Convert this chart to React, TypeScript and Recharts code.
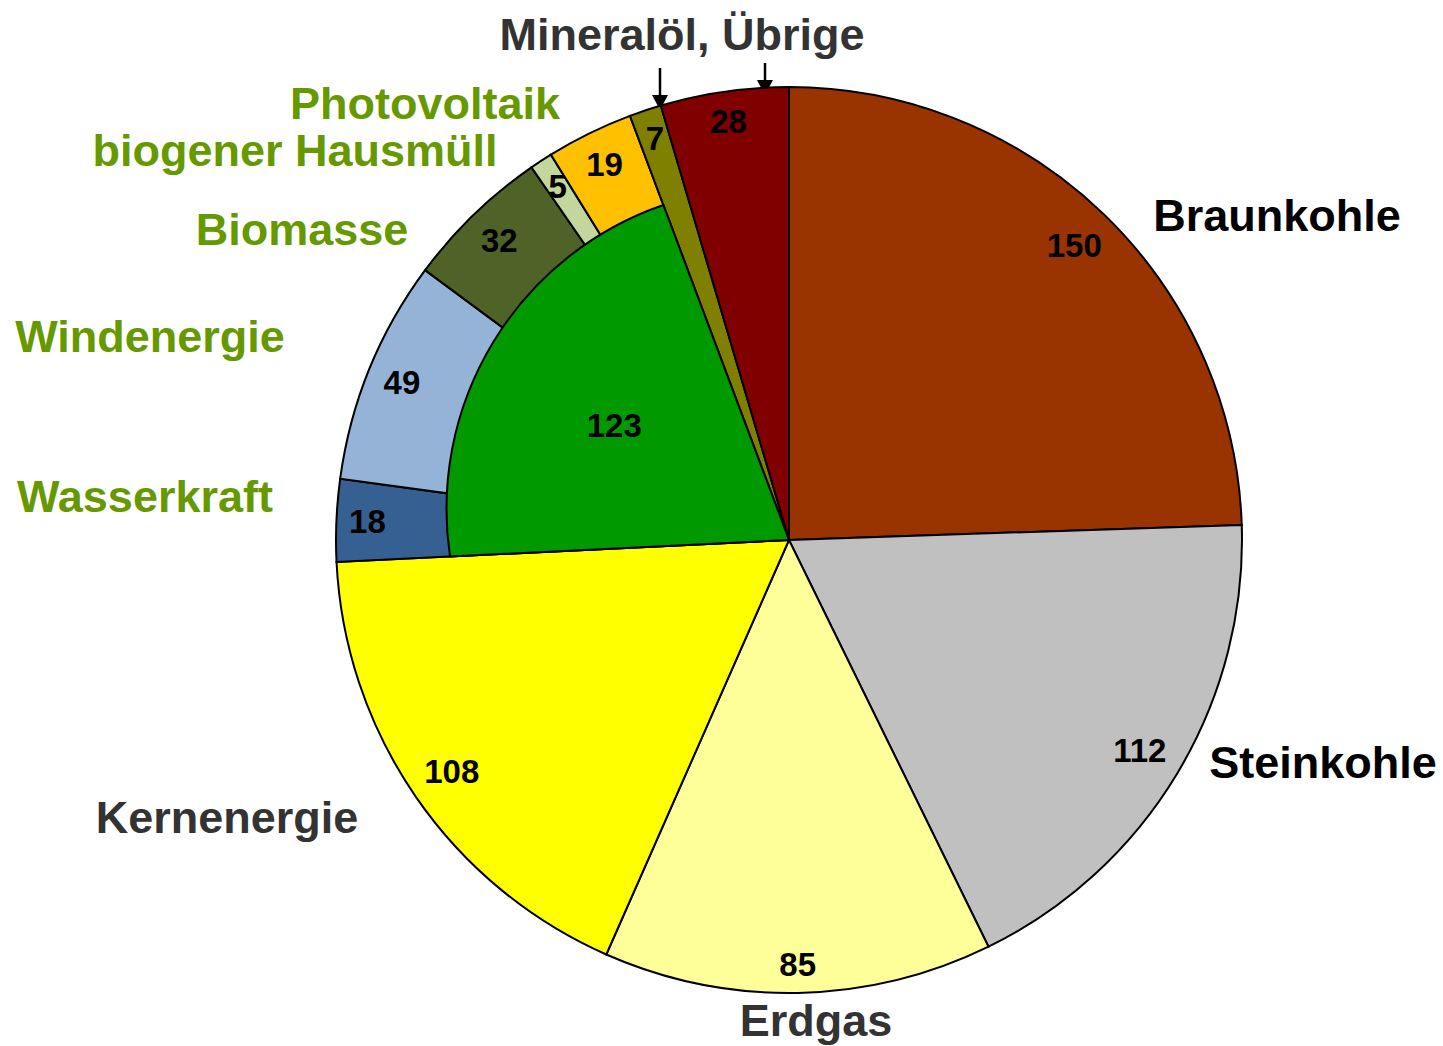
import React from 'react';
import { PieChart, Pie, Cell, Customized } from 'recharts';

document.body.style.margin = '0';

// Bruttostromerzeugung nach Energieträgern (TWh)
const categories = [
  'Braunkohle',
  'Steinkohle',
  'Erdgas',
  'Kernenergie',
  'Wasserkraft',
  'Windenergie',
  'Biomasse',
  'biogener Hausmüll',
  'Photovoltaik',
  'Mineralöl',
  'Übrige',
];
const values = [150, 112, 85, 108, 18, 49, 32, 5, 19, 7, 28];
const renewable = [false, false, false, false, true, true, true, true, true, false, false];
const renewableTotalLabel = 'Erneuerbare';

const COLORS = [
  '#993300', // Braunkohle
  '#C0C0C0', // Steinkohle
  '#FFFF99', // Erdgas
  '#FFFF00', // Kernenergie
  '#366092', // Wasserkraft
  '#95B3D7', // Windenergie
  '#4F6228', // Biomasse
  '#C3D69B', // biogener Hausmüll
  '#FFC000', // Photovoltaik
  '#808000', // Mineralöl
  '#800000', // Übrige
];
const RENEWABLE_COLOR = '#009900';
const GREEN_TEXT = '#669900';
const DARK_TEXT = '#333333';
const FONT = 'Arial, "Liberation Sans", sans-serif';
const VALUE_FONT = 33;
const NAME_FONT = 45;

const CX = 789;
const CY = 540;
const OUTER_R = 453;
const INNER_R = 340;
// the green slice's rim is a circle slightly off the pie centre (as in the original)
const RIM_OFFSET = { x: -21, y: -31 };
const RIM_R = 321.5;

const outerData = categories.map((name, i) => ({ name, value: values[i] }));

// inner layer: renewables merged into one slice, others left empty
const innerData: { name: string; value: number; show: boolean }[] = [];
categories.forEach((name, i) => {
  if (!renewable[i]) {
    innerData.push({ name, value: values[i], show: false });
  } else if (i === 0 || !renewable[i - 1]) {
    const total = values.filter((_, j) => renewable[j]).reduce((a, b) => a + b, 0);
    innerData.push({ name: renewableTotalLabel, value: total, show: true });
  }
});

// category captions, offsets from the pie centre (baseline, anchored middle)
const captions = [
  { text: 'Braunkohle', dx: 488, dy: -309, color: '#000000' },
  { text: 'Steinkohle', dx: 534, dy: 238, color: '#000000' },
  { text: 'Erdgas', dx: 27, dy: 496, color: DARK_TEXT },
  { text: 'Kernenergie', dx: -562, dy: 293, color: DARK_TEXT },
  { text: 'Wasserkraft', dx: -644, dy: -28, color: GREEN_TEXT },
  { text: 'Windenergie', dx: -639, dy: -188, color: GREEN_TEXT },
  { text: 'Biomasse', dx: -487, dy: -295, color: GREEN_TEXT },
  { text: 'biogener Hausmüll', dx: -494, dy: -374, color: GREEN_TEXT },
  { text: 'Photovoltaik', dx: -364, dy: -421, color: GREEN_TEXT },
  { text: 'Mineralöl, Übrige', dx: -107, dy: -490, color: DARK_TEXT },
];

// arrows from the "Mineralöl, Übrige" caption down to the pie
const arrows = [
  { dx: -129, y1: -472, y2: -430 },
  { dx: -24, y1: -477, y2: -445 },
];

const RAD = Math.PI / 180;

// value placed "inside end", like a spreadsheet label
const renderOuterValue = (props: any) => {
  const { cx, cy, midAngle, outerRadius, value } = props;
  const text = String(value);
  const hw = (text.length * 0.556 * VALUE_FONT) / 2;
  const hh = 16;
  const c = Math.cos(-midAngle * RAD);
  const s = Math.sin(-midAngle * RAD);
  const ext = Math.abs(c) * hw + Math.abs(s) * hh;
  const r = outerRadius - 12 - ext;
  return (
    <text
      x={cx + r * c}
      y={cy + r * s}
      dy="0.35em"
      textAnchor="middle"
      fontFamily={FONT}
      fontWeight="bold"
      fontSize={VALUE_FONT}
      fill="#000"
    >
      {text}
    </text>
  );
};

// point where a ray from the pie centre meets the offset rim circle
const rimPoint = (cx: number, cy: number, angle: number) => {
  const ux = Math.cos(-angle * RAD);
  const uy = Math.sin(-angle * RAD);
  const dx = -RIM_OFFSET.x;
  const dy = -RIM_OFFSET.y;
  const b = dx * ux + dy * uy;
  const t = -b + Math.sqrt(b * b - (dx * dx + dy * dy) + RIM_R * RIM_R);
  return { x: cx + t * ux, y: cy + t * uy };
};

// the renewable slice is drawn here, on top of the outer ring
const renderInner = (props: any) => {
  const { cx, cy, midAngle, outerRadius, startAngle, endAngle, value, index } = props;
  if (!innerData[index].show) return null;
  const p1 = rimPoint(cx, cy, startAngle);
  const p2 = rimPoint(cx, cy, endAngle);
  const large = Math.abs(startAngle - endAngle) > 180 ? 1 : 0;
  const path = `M${cx},${cy} L${p1.x},${p1.y} A${RIM_R},${RIM_R} 0 ${large} 1 ${p2.x},${p2.y} Z`;
  const r = outerRadius * 0.615;
  const c = Math.cos(-midAngle * RAD);
  const s = Math.sin(-midAngle * RAD);
  return (
    <g>
      <path d={path} fill={RENEWABLE_COLOR} stroke="#000" strokeWidth={2} strokeLinejoin="round" />
      <text
        x={cx + r * c}
        y={cy + r * s}
        dy="0.35em"
        textAnchor="middle"
        fontFamily={FONT}
        fontWeight="bold"
        fontSize={VALUE_FONT}
        fill="#000"
      >
        {value}
      </text>
    </g>
  );
};

const Annotations = () => (
  <g>
    {captions.map((c) => (
      <text
        key={c.text}
        x={CX + c.dx}
        y={CY + c.dy}
        textAnchor="middle"
        fontFamily={FONT}
        fontWeight="bold"
        fontSize={NAME_FONT}
        fill={c.color}
      >
        {c.text}
      </text>
    ))}
    {arrows.map((a, i) => {
      const x = CX + a.dx;
      const top = CY + a.y1;
      const tip = CY + a.y2;
      return (
        <g key={i}>
          <line x1={x} y1={top} x2={x} y2={tip - 12} stroke="#000" strokeWidth={2.5} />
          <polygon points={`${x - 8},${tip - 15} ${x + 8},${tip - 15} ${x},${tip}`} fill="#000" />
        </g>
      );
    })}
  </g>
);

export default function App() {
  return (
    <div style={{ width: 1443, height: 1046, background: '#fff' }}>
      <PieChart width={1443} height={1046} margin={{ top: 0, right: 0, bottom: 0, left: 0 }}>
        <Pie
          data={outerData}
          dataKey="value"
          nameKey="name"
          cx={CX}
          cy={CY}
          outerRadius={OUTER_R}
          startAngle={90}
          endAngle={-270}
          stroke="#000"
          strokeWidth={2}
          label={renderOuterValue}
          labelLine={false}
          isAnimationActive={false}
        >
          {outerData.map((d, i) => (
            <Cell key={d.name} fill={COLORS[i]} />
          ))}
        </Pie>
        <Pie
          data={innerData}
          dataKey="value"
          nameKey="name"
          cx={CX}
          cy={CY}
          outerRadius={INNER_R}
          startAngle={90}
          endAngle={-270}
          stroke="none"
          label={renderInner}
          labelLine={false}
          isAnimationActive={false}
        >
          {innerData.map((d) => (
            <Cell key={d.name} fill="none" stroke="none" />
          ))}
        </Pie>
        <Customized component={<Annotations />} />
      </PieChart>
    </div>
  );
}
